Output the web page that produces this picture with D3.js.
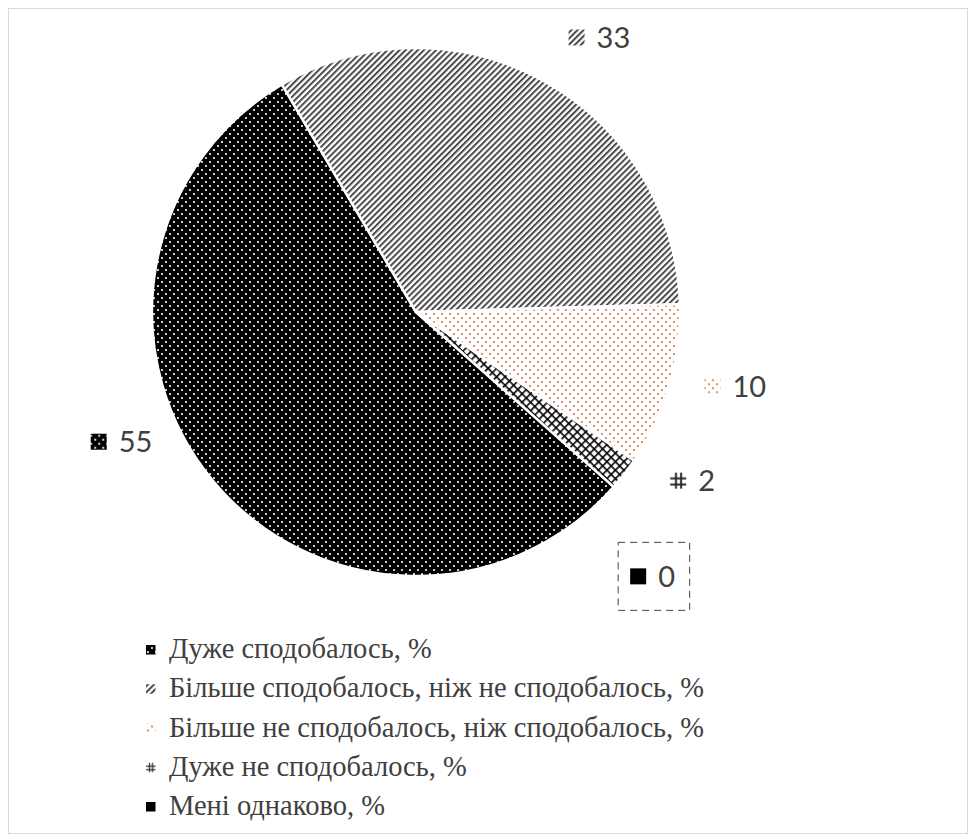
<!DOCTYPE html>
<html>
<head>
<meta charset="utf-8">
<script src="https://cdn.jsdelivr.net/npm/d3@7"></script>
<style>
  body { margin: 0; background: #fff; }
  svg { display: block; }
</style>
</head>
<body>
<svg id="chart" width="976" height="839"></svg>
<script>
// values
var categories = [
    "Дуже сподобалось, %",
    "Більше сподобалось, ніж не сподобалось, %",
    "Більше не сподобалось, ніж сподобалось, %",
    "Дуже не сподобалось, %",
    "Мені однаково, %"
];
var values = [55, 33, 10, 2, 0];
var patternIds = ["p55", "p33", "p10", "p2", "p0"];
var keyPatternIds = ["p55", "p33", "p10", "k2", "p0"];

const width = 976, height = 839;
const cx = 416, cy = 312, radius = 264;
const firstSliceAngle = 131.5;

var svg = d3.select("#chart");
var defs = svg.append("defs");

// black with white dots
var p = defs.append("pattern").attr("id", "p55").attr("patternUnits", "userSpaceOnUse")
    .attr("width", 8).attr("height", 8);
p.append("rect").attr("width", 8).attr("height", 8).attr("fill", "#000");
p.append("circle").attr("cx", 2).attr("cy", 2).attr("r", 1.1).attr("fill", "#fff");
p.append("circle").attr("cx", 6).attr("cy", 6).attr("r", 1.1).attr("fill", "#fff");

// wide upward diagonal
p = defs.append("pattern").attr("id", "p33").attr("patternUnits", "userSpaceOnUse")
    .attr("width", 4.3).attr("height", 10).attr("patternTransform", "rotate(45)");
p.append("rect").attr("width", 4.3).attr("height", 10).attr("fill", "#fff");
p.append("rect").attr("width", 2).attr("height", 10).attr("fill", "#4a4a4a");

// orange dotted
p = defs.append("pattern").attr("id", "p10").attr("patternUnits", "userSpaceOnUse")
    .attr("width", 8).attr("height", 8);
p.append("rect").attr("width", 8).attr("height", 8).attr("fill", "#fff");
p.append("circle").attr("cx", 2).attr("cy", 2).attr("r", 1.1).attr("fill", "#d07a4a");
p.append("circle").attr("cx", 6).attr("cy", 6).attr("r", 1.1).attr("fill", "#d07a4a");

// diagonal lattice
p = defs.append("pattern").attr("id", "p2").attr("patternUnits", "userSpaceOnUse")
    .attr("width", 6).attr("height", 6).attr("patternTransform", "rotate(45)");
p.append("rect").attr("width", 6).attr("height", 6).attr("fill", "#fff");
p.append("rect").attr("width", 1.6).attr("height", 6).attr("fill", "#000");
p.append("rect").attr("width", 6).attr("height", 1.6).attr("fill", "#000");

// lattice as it shows in the small keys
p = defs.append("pattern").attr("id", "k2").attr("patternUnits", "objectBoundingBox")
    .attr("width", 1).attr("height", 1).attr("patternContentUnits", "objectBoundingBox");
p.append("rect").attr("width", 1).attr("height", 1).attr("fill", "#fff");
p.append("rect").attr("x", 0.3).attr("width", 0.12).attr("height", 1).attr("fill", "#222");
p.append("rect").attr("x", 0.62).attr("width", 0.12).attr("height", 1).attr("fill", "#222");
p.append("rect").attr("y", 0.3).attr("width", 1).attr("height", 0.12).attr("fill", "#222");
p.append("rect").attr("y", 0.68).attr("width", 1).attr("height", 0.12).attr("fill", "#222");

// solid
p = defs.append("pattern").attr("id", "p0").attr("patternUnits", "userSpaceOnUse")
    .attr("width", 4).attr("height", 4);
p.append("rect").attr("width", 4).attr("height", 4).attr("fill", "#000");

// chart frame
svg.append("rect")
    .attr("x", 8.5).attr("y", 8.5)
    .attr("width", 959).attr("height", 825)
    .attr("fill", "none").attr("stroke", "#d9d9d9");

var data = values.map(function (v, i) {
    return {name: categories[i], value: v, pat: patternIds[i], key: keyPatternIds[i]};
});

var start = firstSliceAngle * Math.PI / 180;
var pie = d3.pie().sort(null).value(function (d) { return d.value; })
    .startAngle(start).endAngle(start + 2 * Math.PI);
var arcs = pie(data);

var arc = d3.arc().innerRadius(0).outerRadius(radius);

var g = svg.append("g").attr("transform", `translate(${cx},${cy})`);

g.selectAll("path.slice")
    .data(arcs.filter(function (d) { return d.value > 0; }))
    .enter()
    .append("path")
    .attr("class", "slice")
    .attr("d", arc)
    .attr("fill", function (d) { return "url(#" + d.data.pat + ")"; })
    .attr("stroke", "#fff")
    .attr("stroke-width", 2.5)
    .attr("stroke-linejoin", "round");

// data labels, placed on an outer ring and nudged like Excel's best fit
var labelArc = d3.arc().innerRadius(325).outerRadius(325);
var labelShift = [[-44, -77], [26, 10], [7, -17], [20, -31], [-7, 49]];

arcs.forEach(function (d, i) {
    var c = labelArc.centroid(d);
    var x = c[0] + labelShift[i][0], y = c[1] + labelShift[i][1];
    var lg = g.append("g").attr("transform", `translate(${x},${y})`);
    var txt = String(d.data.value);
    var tw = txt.length * 16.5;
    var total = 16 + 12 + tw;
    var left = -total / 2;
    if (d.data.value === 0) {
        lg.append("rect")
            .attr("x", left - 12).attr("y", -34)
            .attr("width", total + 27).attr("height", 68)
            .attr("fill", "none")
            .attr("stroke", "#404040")
            .attr("stroke-width", 1)
            .attr("stroke-dasharray", "7,5");
    }
    lg.append("rect")
        .attr("x", left).attr("y", -8)
        .attr("width", 16).attr("height", 16)
        .attr("fill", "url(#" + d.data.key + ")");
    lg.append("text")
        .attr("x", left + 28).attr("y", 10.5)
        .style("font-family", "Lato, 'Open Sans', sans-serif")
        .style("font-size", "29px")
        .style("fill", "#404040")
        .text(txt);
});

// legend
var legend = svg.append("g").attr("transform", "translate(146,658)");
var rowH = 39.25;
var items = legend.selectAll("g.item")
    .data(data)
    .enter()
    .append("g")
    .attr("class", "item")
    .attr("transform", function (d, i) { return `translate(0,${i * rowH})`; });

items.append("rect")
    .attr("x", 0).attr("y", -13)
    .attr("width", 9.5).attr("height", 9.5)
    .attr("fill", function (d) { return "url(#" + d.key + ")"; });

items.append("text")
    .attr("x", 23).attr("y", 0)
    .style("font-family", "'Liberation Serif', 'Times New Roman', serif")
    .style("font-size", "28.5px")
    .style("fill", "#404040")
    .text(function (d) { return d.name; });
</script>
</body>
</html>
